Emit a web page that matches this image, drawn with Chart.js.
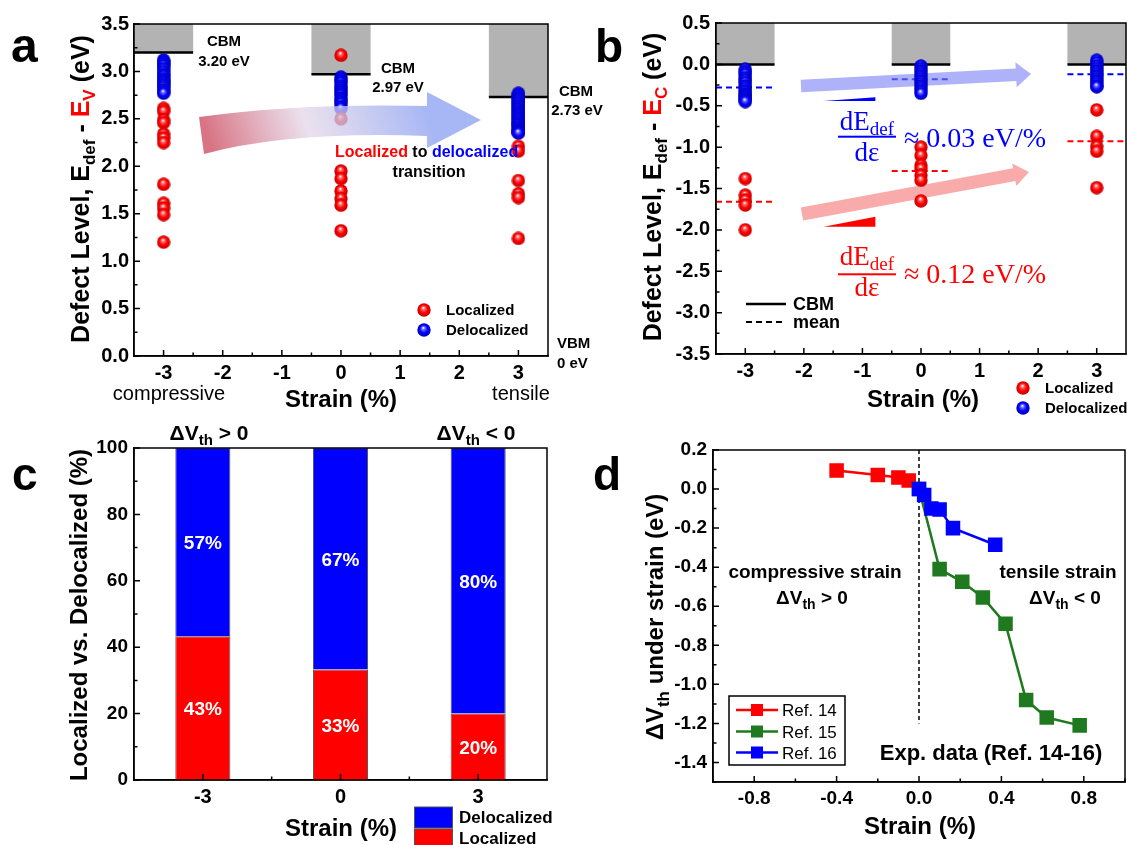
<!DOCTYPE html>
<html><head><meta charset="utf-8">
<script src="https://cdn.jsdelivr.net/npm/chart.js@4.4.1/dist/chart.umd.min.js"></script>
<style>
html,body{margin:0;padding:0;background:#fff;}
#wrap{position:relative;width:1127px;height:845px;overflow:hidden;background:#fff}
#wrap canvas{position:absolute;left:0;top:0}
</style></head><body><div id="wrap">
<canvas id="ca" width="1127" height="845"></canvas>
<canvas id="cb" width="1127" height="845"></canvas>
<canvas id="cc" width="1127" height="845"></canvas>
<canvas id="cd" width="1127" height="845"></canvas>
</div>
<script>
// ---------------- DATA ----------------
const strains = [-3, 0, 3];
// panel a : E_def - E_V (eV)
const aLocM3 = [2.61, 2.58, 2.49, 2.46, 2.34, 2.30, 2.25, 1.81, 1.61, 1.56, 1.49, 1.20];
const aLoc0  = [3.17, 2.50, 1.95, 1.87, 1.74, 1.66, 1.59, 1.32];
const aLocP3 = [2.21, 2.16, 1.85, 1.71, 1.67, 1.24];
const aDelM3 = [3.12, 3.10, 3.08, 3.06, 3.03, 3.00, 2.97, 2.95, 2.92, 2.90, 2.88, 2.86, 2.84, 2.81, 2.79, 2.77];
const aDel0  = [2.94, 2.92, 2.90, 2.88, 2.85, 2.83, 2.81, 2.79, 2.77, 2.75, 2.72, 2.70, 2.68, 2.66, 2.63, 2.61];
const aDelP3 = [2.77, 2.75, 2.73, 2.71, 2.69, 2.67, 2.65, 2.63, 2.61, 2.59, 2.57, 2.55, 2.53, 2.51, 2.49, 2.47, 2.45, 2.44, 2.42, 2.40, 2.38, 2.37, 2.36, 2.35];
const aCBM = [3.20, 2.97, 2.73];
const aCBMLabels = ['3.20 eV', '2.97 eV', '2.73 eV'];
const aXTicks = [-3, -2, -1, 0, 1, 2, 3];
const aYTicks = [0, 0.5, 1.0, 1.5, 2.0, 2.5, 3.0, 3.5];
// panel b : E_def - E_C (eV)
const bLocM3 = [-1.38, -1.58, -1.64, -1.70, -2.00];
const bLoc0  = [-1.00, -1.10, -1.22, -1.26, -1.34, -1.40, -1.65];
const bLocP3 = [-0.55, -0.87, -0.99, -1.05, -1.49];
const bDelM3 = [-0.06, -0.09, -0.12, -0.16, -0.19, -0.22, -0.26, -0.29, -0.32, -0.35, -0.37, -0.39, -0.41, -0.43, -0.45];
const bDel0  = [-0.02, -0.05, -0.08, -0.11, -0.14, -0.17, -0.20, -0.23, -0.26, -0.29, -0.32, -0.35];
const bDelP3 = [0.05, 0.02, -0.02, -0.05, -0.08, -0.11, -0.14, -0.17, -0.20, -0.23, -0.26, -0.27];
const bCBM = [0, 0, 0];
const bMeanLoc = [-1.66, -1.29, -0.93];
const bMeanDel = [-0.28, -0.18, -0.12];
const bXTicks = [-3, -2, -1, 0, 1, 2, 3];
const bYTicks = [-3.5, -3.0, -2.5, -2.0, -1.5, -1.0, -0.5, 0.0, 0.5];
// panel c
const cCats = ['-3', '0', '3'];
const cLoc = [43.3, 33.3, 20.0];
const cDel = [56.7, 66.7, 80.0];
const cLocLabels = ['43%', '33%', '20%'];
const cDelLabels = ['57%', '67%', '80%'];
const cYTicks = [0, 20, 40, 60, 80, 100];
// panel d
const ref14X = [-0.40, -0.20, -0.10, -0.05];
const ref14Y = [0.095, 0.072, 0.059, 0.044];
const ref15X = [0.00, 0.10, 0.21, 0.31, 0.42, 0.52, 0.62, 0.78];
const ref15Y = [0.00, -0.41, -0.475, -0.555, -0.69, -1.08, -1.17, -1.21];
const ref16X = [0.00, 0.025, 0.06, 0.10, 0.165, 0.37];
const ref16Y = [0.00, -0.03, -0.10, -0.105, -0.20, -0.285];
const dXTicks = [-0.8, -0.4, 0.0, 0.4, 0.8];
const dYTicks = [-1.4, -1.2, -1.0, -0.8, -0.6, -0.4, -0.2, 0.0, 0.2];

// ---------------- SETUP ----------------
const FONT = "'Liberation Sans', Arial, sans-serif";
const SERIF = "'Liberation Serif', 'Times New Roman', serif";
const W = 1127, H = 845;
const RED = '#ff0000', BLUE = '#0000ff', GREEN = '#1f7a1f';
Chart.defaults.font.family = FONT;
Chart.defaults.color = '#000';
Chart.defaults.animation = false;

function ball(light, color, dark) {
  const s = 14, c = document.createElement('canvas'); c.width = c.height = s;
  const g = c.getContext('2d');
  const gr = g.createRadialGradient(s * 0.45, s * 0.34, 0.3, s * 0.5, s * 0.5, s * 0.5);
  gr.addColorStop(0, '#ffffff'); gr.addColorStop(0.2, light); gr.addColorStop(0.55, color); gr.addColorStop(1, dark);
  g.fillStyle = gr; g.beginPath(); g.arc(s / 2, s / 2, s / 2 - 0.3, 0, 2 * Math.PI); g.fill();
  return c;
}
const redBall = ball('#ff6a6a', '#ff0000', '#c00000');
const blueBall = ball('#6a6aff', '#0000ff', '#0000b0');

function rich(ctx, parts, x, y, align, rot) {
  ctx.save(); ctx.translate(x, y); if (rot) ctx.rotate(rot);
  ctx.textBaseline = 'alphabetic'; ctx.textAlign = 'left';
  let w = 0;
  parts.forEach(p => { ctx.font = `${p.w || 'bold'} ${p.s}px ${p.f || FONT}`; p.width = ctx.measureText(p.t).width; w += p.width; });
  let cx = align === 'center' ? -w / 2 : (align === 'right' ? -w : 0);
  const by = rot ? parts[0].s * 0.36 : 0;
  parts.forEach(p => { ctx.font = `${p.w || 'bold'} ${p.s}px ${p.f || FONT}`; ctx.fillStyle = p.c || '#000'; ctx.fillText(p.t, cx, by + (p.dy || 0)); cx += p.width; });
  ctx.restore();
}
function txt(ctx, t, x, y, size, align, color, weight) {
  rich(ctx, [{ t, s: size, c: color, w: weight }], x, y + size * 0.36, align || 'center');
}
function arrow(ctx, x0, y0, x1, y1, bw, hw, hl, fill) {
  const dx = x1 - x0, dy = y1 - y0, L = Math.hypot(dx, dy), ux = dx / L, uy = dy / L, nx = -uy, ny = ux;
  const bx = x1 - ux * hl, by = y1 - uy * hl;
  ctx.beginPath();
  ctx.moveTo(x0 + nx * bw / 2, y0 + ny * bw / 2);
  ctx.lineTo(bx + nx * bw / 2, by + ny * bw / 2);
  ctx.lineTo(bx + nx * hw / 2, by + ny * hw / 2);
  ctx.lineTo(x1, y1);
  ctx.lineTo(bx - nx * hw / 2, by - ny * hw / 2);
  ctx.lineTo(bx - nx * bw / 2, by - ny * bw / 2);
  ctx.lineTo(x0 - nx * bw / 2, y0 - ny * bw / 2);
  ctx.closePath(); ctx.fillStyle = fill; ctx.fill();
}
function place(T, R) { return { autoPadding: false, padding: { left: 0, top: T, right: W - R, bottom: 0 } }; }
function zeroPad(s) { s.paddingLeft = 0; s.paddingRight = 0; s.paddingTop = 0; s.paddingBottom = 0; }
function lin(axis, min, max, majors, edge, fmt, size, pad) {
  return {
    type: 'linear', position: axis === 'x' ? 'bottom' : 'left', min, max,
    grid: { display: false, drawTicks: false }, border: { display: true, color: '#000', width: 1.5 },
    afterBuildTicks: s => { s.ticks = majors.map(v => ({ value: v })); },
    afterFit: s => { if (axis === 'x') s.height = H - edge; else s.width = edge; zeroPad(s); },
    ticks: { autoSkip: false, maxRotation: 0, minRotation: 0, color: '#000', padding: pad,
      font: { family: FONT, size, weight: 'bold' }, callback: v => fmt(v) }
  };
}
function frame(xMaj, xMin, yMaj, yMin, before, after) {
  return {
    id: 'frame',
    beforeDatasetsDraw(ch) { if (before) before(ch, ch.ctx, ch.scales.x, ch.scales.y); },
    afterDatasetsDraw(ch) {
      const { ctx, chartArea: a, scales: { x, y } } = ch;
      if (after) after(ch, ctx, x, y);
      ctx.save(); ctx.strokeStyle = '#000'; ctx.lineWidth = 1.5; ctx.setLineDash([]);
      ctx.strokeRect(a.left, a.top, a.right - a.left, a.bottom - a.top);
      ctx.beginPath();
      xMaj.forEach(v => { const p = x.getPixelForValue(v); ctx.moveTo(p, a.bottom); ctx.lineTo(p, a.bottom - 6); });
      xMin.forEach(v => { const p = x.getPixelForValue(v); ctx.moveTo(p, a.bottom); ctx.lineTo(p, a.bottom - 3.5); });
      yMaj.forEach(v => { const p = y.getPixelForValue(v); ctx.moveTo(a.left, p); ctx.lineTo(a.left + 6, p); });
      yMin.forEach(v => { const p = y.getPixelForValue(v); ctx.moveTo(a.left, p); ctx.lineTo(a.left + 3.5, p); });
      ctx.stroke(); ctx.restore();
    }
  };
}
const mk = (x, arr) => arr.map(v => ({ x, y: v }));
const baseOpts = { responsive: false, animation: false, events: [], plugins: { legend: { display: false }, tooltip: { enabled: false } } };
function halfSteps(a, b, st) { const r = []; for (let v = a; v <= b + 1e-9; v += st) r.push(+v.toFixed(3)); return r; }

// ---------------- PANEL A ----------------
new Chart(document.getElementById('ca'), {
  type: 'scatter',
  data: { datasets: [
    { label: 'Localized', data: [...mk(strains[0], aLocM3), ...mk(strains[1], aLoc0), ...mk(strains[2], aLocP3)], pointStyle: redBall, pointRadius: 7 },
    { label: 'Delocalized', data: [...mk(strains[0], aDelM3), ...mk(strains[1], aDel0), ...mk(strains[2], aDelP3)], pointStyle: blueBall, pointRadius: 7 }
  ] },
  options: Object.assign({}, baseOpts, {
    layout: place(24, 548),
    scales: {
      x: lin('x', -3.5, 3.5, aXTicks, 356, v => String(v), 20, 5),
      y: lin('y', 0, 3.5, aYTicks, 134, v => v.toFixed(1), 20, 5)
    }
  }),
  plugins: [frame(aXTicks, [-2.5, -1.5, -0.5, 0.5, 1.5, 2.5], aYTicks, halfSteps(0.25, 3.25, 0.5),
    (ch, ctx, x, y) => {
      ctx.save();
      strains.forEach((s, i) => {
        const x0 = x.getPixelForValue(s - 0.5), x1 = x.getPixelForValue(s + 0.5);
        const yt = y.getPixelForValue(3.5), yc = y.getPixelForValue(aCBM[i]);
        ctx.fillStyle = '#b3b3b3'; ctx.fillRect(x0, yt, x1 - x0, yc - yt);
        ctx.strokeStyle = '#000'; ctx.lineWidth = 2.5; ctx.beginPath(); ctx.moveTo(x0, yc); ctx.lineTo(x1, yc); ctx.stroke();
      });
      ctx.restore();
    },
    (ch, ctx, x, y) => {
      ctx.save();
      // curved gradient arrow
      const g = ctx.createLinearGradient(215, 158, 420, 90);
      g.addColorStop(0, 'rgba(208,85,105,0.82)');
      g.addColorStop(0.45, 'rgba(228,215,232,0.75)');
      g.addColorStop(1, 'rgba(145,165,242,0.8)');
      ctx.beginPath();
      ctx.moveTo(199, 117); ctx.quadraticCurveTo(300, 103, 427, 106);
      ctx.lineTo(427, 92); ctx.lineTo(481, 120); ctx.lineTo(427, 148); ctx.lineTo(427, 136);
      ctx.quadraticCurveTo(290, 131, 204, 154); ctx.closePath();
      ctx.fillStyle = g; ctx.fill();
      // CBM labels
      txt(ctx, 'CBM', 224, 41, 15); txt(ctx, aCBMLabels[0], 224, 61, 15);
      txt(ctx, 'CBM', 398, 68, 15); txt(ctx, aCBMLabels[1], 398, 87, 15);
      txt(ctx, 'CBM', 576, 91, 15); txt(ctx, aCBMLabels[2], 577, 110, 15);
      txt(ctx, 'VBM', 557, 343, 15, 'left'); txt(ctx, '0 eV', 557, 363, 15, 'left');
      rich(ctx, [{ t: 'Localized', s: 16, c: RED }, { t: ' to ', s: 16 }, { t: 'delocalized', s: 16, c: BLUE }], 335, 157, 'left');
      txt(ctx, 'transition', 429, 171, 16);
      // legend
      ctx.drawImage(redBall, 417, 303); txt(ctx, 'Localized', 446, 310, 15, 'left');
      ctx.drawImage(blueBall, 417, 323); txt(ctx, 'Delocalized', 446, 330, 15, 'left');
      // axis texts
      txt(ctx, 'compressive', 169, 393, 20, 'center', '#000', 'normal');
      txt(ctx, 'tensile', 521, 393, 20, 'center', '#000', 'normal');
      txt(ctx, 'Strain (%)', 341, 398, 24);
      rich(ctx, [{ t: 'Defect Level, E', s: 25 }, { t: 'def', s: 17, dy: 6 }, { t: ' - ', s: 25 }, { t: 'E', s: 25, c: RED }, { t: 'V', s: 17, dy: 6, c: RED }, { t: ' (eV)', s: 25 }], 80, 189, 'center', -Math.PI / 2);
      rich(ctx, [{ t: 'a', s: 48 }], 11, 62, 'left');
      ctx.restore();
    })]
});

// ---------------- PANEL B ----------------
new Chart(document.getElementById('cb'), {
  type: 'scatter',
  data: { datasets: [
    { label: 'Localized', data: [...mk(strains[0], bLocM3), ...mk(strains[1], bLoc0), ...mk(strains[2], bLocP3)], pointStyle: redBall, pointRadius: 7 },
    { label: 'Delocalized', data: [...mk(strains[0], bDelM3), ...mk(strains[1], bDel0), ...mk(strains[2], bDelP3)], pointStyle: blueBall, pointRadius: 7 }
  ] },
  options: Object.assign({}, baseOpts, {
    layout: place(23, 1126),
    scales: {
      x: lin('x', -3.5, 3.5, bXTicks, 354, v => String(v), 20, 5),
      y: lin('y', -3.5, 0.5, bYTicks, 716, v => v.toFixed(1), 20, 6)
    }
  }),
  plugins: [frame(bXTicks, [-2.5, -1.5, -0.5, 0.5, 1.5, 2.5], bYTicks, halfSteps(-3.25, 0.25, 0.5),
    (ch, ctx, x, y) => {
      ctx.save();
      strains.forEach((s, i) => {
        const x0 = x.getPixelForValue(s - 0.5), x1 = x.getPixelForValue(s + 0.5);
        const yt = y.getPixelForValue(0.5), yc = y.getPixelForValue(bCBM[i]);
        ctx.fillStyle = '#b3b3b3'; ctx.fillRect(x0, yt, x1 - x0, yc - yt);
        ctx.strokeStyle = '#000'; ctx.lineWidth = 2.5; ctx.setLineDash([]);
        ctx.beginPath(); ctx.moveTo(x0, yc); ctx.lineTo(x1, yc); ctx.stroke();
        ctx.lineWidth = 2; ctx.setLineDash([6, 4]);
        ctx.strokeStyle = BLUE; ctx.beginPath();
        ctx.moveTo(x0, y.getPixelForValue(bMeanDel[i])); ctx.lineTo(x1, y.getPixelForValue(bMeanDel[i])); ctx.stroke();
        ctx.strokeStyle = RED; ctx.beginPath();
        ctx.moveTo(x0, y.getPixelForValue(bMeanLoc[i])); ctx.lineTo(x1, y.getPixelForValue(bMeanLoc[i])); ctx.stroke();
      });
      ctx.setLineDash([]);
      arrow(ctx, 801, 86, 1031, 74, 12.5, 25, 15, 'rgba(120,128,245,0.6)');
      arrow(ctx, 802, 214, 1029, 172, 13, 23, 15, 'rgba(245,115,115,0.6)');
      ctx.restore();
    },
    (ch, ctx, x, y) => {
      ctx.save();
      // slope wedges
      ctx.fillStyle = BLUE; ctx.beginPath(); ctx.moveTo(823.6, 101); ctx.lineTo(875.4, 101); ctx.lineTo(875.4, 97.3); ctx.closePath(); ctx.fill();
      ctx.fillStyle = RED; ctx.beginPath(); ctx.moveTo(823.6, 226.7); ctx.lineTo(875.4, 226.7); ctx.lineTo(875.4, 216.7); ctx.closePath(); ctx.fill();
      // formulas
      const fr = (col, ynum, ybar, yden, yeq, val) => {
        rich(ctx, [{ t: 'dE', s: 27, f: SERIF, w: 'normal', c: col }, { t: 'def', s: 19, f: SERIF, w: 'normal', c: col, dy: 5 }], 867, ynum, 'center');
        ctx.fillStyle = col; ctx.fillRect(838, ybar - 1, 58, 2);
        rich(ctx, [{ t: 'dε', s: 27, f: SERIF, w: 'normal', c: col }], 867, yden, 'center');
        rich(ctx, [{ t: '≈ ' + val, s: 28, f: SERIF, w: 'normal', c: col }], 904, yeq, 'left');
      };
      fr(BLUE, 130, 136.7, 161, 147, '0.03 eV/%');
      fr(RED, 265, 274.3, 296, 283, '0.12 eV/%');
      // line legend
      ctx.strokeStyle = '#000'; ctx.lineWidth = 2.5;
      ctx.beginPath(); ctx.moveTo(746, 304); ctx.lineTo(786, 304); ctx.stroke();
      ctx.lineWidth = 2; ctx.setLineDash([6, 4]);
      ctx.beginPath(); ctx.moveTo(746, 322); ctx.lineTo(786, 322); ctx.stroke(); ctx.setLineDash([]);
      txt(ctx, 'CBM', 793, 304, 18, 'left'); txt(ctx, 'mean', 793, 322, 18, 'left');
      // ball legend
      ctx.drawImage(redBall, 1016, 381); txt(ctx, 'Localized', 1045, 388, 15, 'left');
      ctx.drawImage(blueBall, 1016, 401); txt(ctx, 'Delocalized', 1045, 408, 15, 'left');
      txt(ctx, 'Strain (%)', 923, 398, 24);
      rich(ctx, [{ t: 'Defect Level, E', s: 25 }, { t: 'def', s: 17, dy: 6 }, { t: ' - ', s: 25 }, { t: 'E', s: 25, c: RED }, { t: 'C', s: 17, dy: 6, c: RED }, { t: ' (eV)', s: 25 }], 652, 187, 'center', -Math.PI / 2);
      rich(ctx, [{ t: 'b', s: 46 }], 595, 62, 'left');
      ctx.restore();
    })]
});

// ---------------- PANEL C ----------------
new Chart(document.getElementById('cc'), {
  type: 'bar',
  data: { labels: cCats, datasets: [
    { label: 'Localized', data: cLoc, backgroundColor: RED, borderColor: '#555', borderWidth: 1, barPercentage: 0.4, categoryPercentage: 1 },
    { label: 'Delocalized', data: cDel, backgroundColor: BLUE, borderColor: '#555', borderWidth: 1, barPercentage: 0.4, categoryPercentage: 1 }
  ] },
  options: Object.assign({}, baseOpts, {
    layout: place(448, 547),
    scales: {
      x: { type: 'category', stacked: true, offset: true, grid: { display: false, drawTicks: false, offset: true }, border: { display: true, color: '#000', width: 1.5 },
        afterFit: s => { s.height = H - 780; zeroPad(s); },
        ticks: { color: '#000', padding: 5, font: { family: FONT, size: 20, weight: 'bold' } } },
      y: Object.assign(lin('y', 0, 100, cYTicks, 134, v => String(v), 19, 6), { stacked: true })
    }
  }),
  plugins: [frame([0, 1, 2], [0.5, 1.5], cYTicks, [10, 30, 50, 70, 90], null,
    (ch, ctx, x, y) => {
      ctx.save();
      const m0 = ch.getDatasetMeta(0).data, m1 = ch.getDatasetMeta(1).data;
      m0.forEach((el, i) => txt(ctx, cLocLabels[i], el.x, (el.y + el.base) / 2, 19, 'center', '#fff'));
      m1.forEach((el, i) => txt(ctx, cDelLabels[i], el.x, (el.y + el.base) / 2, 19, 'center', '#fff'));
      rich(ctx, [{ t: 'ΔV', s: 21 }, { t: 'th', s: 15, dy: 5 }, { t: ' > 0', s: 21 }], 209, 440, 'center');
      rich(ctx, [{ t: 'ΔV', s: 21 }, { t: 'th', s: 15, dy: 5 }, { t: ' < 0', s: 21 }], 476, 440, 'center');
      // legend
      ctx.strokeStyle = '#555'; ctx.lineWidth = 1;
      ctx.fillStyle = BLUE; ctx.fillRect(414.5, 807, 38, 21); ctx.strokeRect(414.5, 807, 38, 21);
      ctx.fillStyle = RED; ctx.fillRect(414.5, 829, 38, 21); ctx.strokeRect(414.5, 829, 38, 21);
      txt(ctx, 'Delocalized', 459, 817, 17, 'left'); txt(ctx, 'Localized', 459, 838, 17, 'left');
      txt(ctx, 'Strain (%)', 341, 827, 24);
      rich(ctx, [{ t: 'Localized vs. Delocalized (%)', s: 24 }], 78, 615, 'center', -Math.PI / 2);
      rich(ctx, [{ t: 'c', s: 46 }], 12, 490, 'left');
      ctx.restore();
    })]
});

// ---------------- PANEL D ----------------
const zip = (xs, ys) => xs.map((v, i) => ({ x: v, y: ys[i] }));
const lineDs = (label, xs, ys, col, order) => ({ label, data: zip(xs, ys), borderColor: col, backgroundColor: col, pointBackgroundColor: col, pointBorderColor: col,
  pointStyle: 'rect', pointRadius: 8.5, borderWidth: 2.5, showLine: true, tension: 0, order });
new Chart(document.getElementById('cd'), {
  type: 'scatter',
  data: { datasets: [
    lineDs('Ref. 14', ref14X, ref14Y, RED, 2),
    lineDs('Ref. 15', ref15X, ref15Y, GREEN, 1),
    lineDs('Ref. 16', ref16X, ref16Y, BLUE, 0)
  ] },
  options: Object.assign({}, baseOpts, {
    layout: place(450, 1125),
    scales: {
      x: lin('x', -1.0, 1.0, dXTicks, 782, v => v.toFixed(1), 19, 5),
      y: lin('y', -1.5, 0.2, dYTicks, 713, v => v.toFixed(1), 19, 6)
    }
  }),
  plugins: [frame(dXTicks, [-1.0, -0.6, -0.2, 0.2, 0.6, 1.0], dYTicks, halfSteps(-1.5, 0.1, 0.2),
    (ch, ctx, x, y) => {
      ctx.save(); ctx.strokeStyle = '#000'; ctx.lineWidth = 1.5; ctx.setLineDash([4, 3]);
      ctx.beginPath(); ctx.moveTo(x.getPixelForValue(0), y.getPixelForValue(0.2)); ctx.lineTo(x.getPixelForValue(0), y.getPixelForValue(-1.2)); ctx.stroke();
      ctx.restore();
    },
    (ch, ctx, x, y) => {
      ctx.save();
      // legend
      ctx.strokeStyle = '#000'; ctx.lineWidth = 1.5; ctx.strokeRect(729, 696, 116, 69);
      [['Ref. 14', RED, 710], ['Ref. 15', GREEN, 731.5], ['Ref. 16', BLUE, 752.5]].forEach(([t, c, yy]) => {
        ctx.strokeStyle = c; ctx.lineWidth = 2.5; ctx.beginPath(); ctx.moveTo(736, yy); ctx.lineTo(778, yy); ctx.stroke();
        ctx.fillStyle = c; ctx.fillRect(751, yy - 6, 12, 12);
        txt(ctx, t, 782, yy, 17, 'left', '#000', 'normal');
      });
      txt(ctx, 'compressive strain', 815, 571, 19);
      rich(ctx, [{ t: 'ΔV', s: 19 }, { t: 'th', s: 14, dy: 5 }, { t: ' > 0', s: 19 }], 812, 604, 'center');
      txt(ctx, 'tensile strain', 1058, 571, 19);
      rich(ctx, [{ t: 'ΔV', s: 19 }, { t: 'th', s: 14, dy: 5 }, { t: ' < 0', s: 19 }], 1065, 604, 'center');
      txt(ctx, 'Exp. data (Ref. 14-16)', 991, 752, 22);
      txt(ctx, 'Strain (%)', 920, 825, 24);
      rich(ctx, [{ t: 'ΔV', s: 24 }, { t: 'th', s: 17, dy: 6 }, { t: ' under strain (eV)', s: 24 }], 654, 617, 'center', -Math.PI / 2);
      rich(ctx, [{ t: 'd', s: 46 }], 593, 490, 'left');
      ctx.restore();
    })]
});
</script>
</body></html>
